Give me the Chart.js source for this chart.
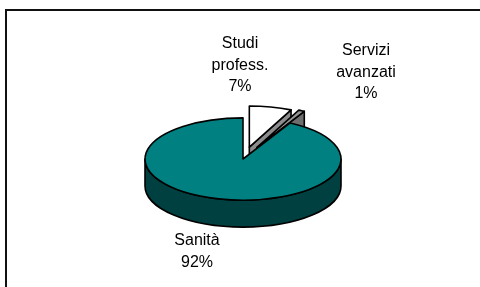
<!DOCTYPE html>
<html>
<head>
<meta charset="utf-8">
<script src="https://cdn.jsdelivr.net/npm/chart.js@4.4.1/dist/chart.umd.min.js"></script>
<style>
  html, body { margin: 0; padding: 0; background: #fff; overflow: hidden; }
  #wrap { position: relative; width: 480px; height: 287px; }
  #frame { position: absolute; left: 5px; top: 9px; width: 480px; height: 300px; box-sizing: border-box; border: 2px solid #111; border-right: none; pointer-events: none; }
  canvas { position: absolute; left: 0; top: 0; }
</style>
</head>
<body>
<div id="wrap">
  <div id="frame"></div>
  <canvas id="c" width="480" height="287"></canvas>
</div>
<script>
// ---- data ----
const categories = [['Studi', 'profess.'], ['Servizi', 'avanzati'], ['Sanità']];
const values = [7, 1, 92];

// ---- styles ----
const topColors = ['#ffffff', '#969696', '#008080'];
const sideColors = ['#8c8c8c', '#6e6e6e', '#004040'];
const explode = [29, 31, 0];          // px in pie plane
const drawOrder = [0, 1, 2];
const TILT = 0.42;                    // vertical squash of the pie plane
const DEPTH = 27;                     // screen px
const labelOffsets = [[-3, -111], [123, -104], [-46, 86]]; // first baseline rel. to centre
const LINE_H = 21.5;

const pie3d = {
  id: 'pie3d',
  beforeDatasetsDraw(chart) {
    const ctx = chart.ctx;
    const arcs = chart.getDatasetMeta(0).data;
    const base = ctx.getTransform();
    const cx = arcs[0].x, cy = arcs[0].y;
    const d = DEPTH / TILT;
    const PI = Math.PI;
    ctx.stroke = function () {
      CanvasRenderingContext2D.prototype.save.call(this);
      this.setTransform(base);
      CanvasRenderingContext2D.prototype.stroke.call(this);
      CanvasRenderingContext2D.prototype.restore.call(this);
    };
    ctx.save();
    ctx.translate(cx, cy); ctx.scale(1, TILT); ctx.translate(-cx, -cy);
    drawOrder.forEach(i => {
      const a = arcs[i];
      const s = a.startAngle, e = a.endAngle, r = a.outerRadius;
      const mid = (s + e) / 2;
      const off = explode[i];
      ctx.save();
      ctx.translate(Math.cos(mid) * off, Math.sin(mid) * off);
      ctx.fillStyle = sideColors[i];
      ctx.strokeStyle = '#000';
      ctx.lineWidth = 1.6;
      ctx.lineJoin = 'round';
      const walls = [];
      if (Math.cos(s) < -1e-6) walls.push(s);
      if (Math.cos(e) > 1e-6) walls.push(e);
      walls.forEach(w => {
        const px = cx + r * Math.cos(w), py = cy + r * Math.sin(w);
        ctx.beginPath();
        ctx.moveTo(cx, cy);
        ctx.lineTo(px, py);
        ctx.lineTo(px, py + d);
        ctx.lineTo(cx, cy + d);
        ctx.closePath();
        ctx.fill(); ctx.stroke();
      });
      for (const sh of [-2 * PI, 0, 2 * PI]) {
        const a1 = Math.max(s, sh), a2 = Math.min(e, PI + sh);
        if (a2 > a1) {
          ctx.beginPath();
          ctx.arc(cx, cy, r, a1, a2);
          ctx.arc(cx, cy + d, r, a2, a1, true);
          ctx.closePath();
          ctx.fill(); ctx.stroke();
        }
      }
      a.draw(ctx);
      ctx.restore();
    });
    ctx.restore();
    delete ctx.stroke;
    return false;
  },
  afterDraw(chart) {
    const ctx = chart.ctx;
    const arcs = chart.getDatasetMeta(0).data;
    const cx = arcs[0].x, cy = arcs[0].y;
    const total = values.reduce((p, v) => p + v, 0);
    ctx.save();
    ctx.fillStyle = '#000';
    ctx.font = '16px "Liberation Sans", Arial, sans-serif';
    ctx.textAlign = 'center';
    ctx.textBaseline = 'alphabetic';
    categories.forEach((lines, i) => {
      const all = lines.concat([Math.round(values[i] / total * 100) + '%']);
      const [dx, dy] = labelOffsets[i];
      all.forEach((t, j) => ctx.fillText(t, cx + dx, cy + dy + j * LINE_H));
    });
    ctx.restore();
  }
};

new Chart(document.getElementById('c'), {
  type: 'pie',
  data: {
    labels: categories.map(l => l.join(' ')),
    datasets: [{
      data: values,
      backgroundColor: topColors,
      borderColor: '#000',
      borderWidth: 1.6,
      borderJoinStyle: 'round',
      offset: 0,
      hoverOffset: 0
    }]
  },
  options: {
    responsive: false,
    animation: false,
    events: [],
    radius: 98,
    layout: { padding: { left: 6, right: 0, top: 31, bottom: 0 } },
    plugins: { legend: { display: false }, tooltip: { enabled: false } }
  },
  plugins: [pie3d]
});
</script>
</body>
</html>
